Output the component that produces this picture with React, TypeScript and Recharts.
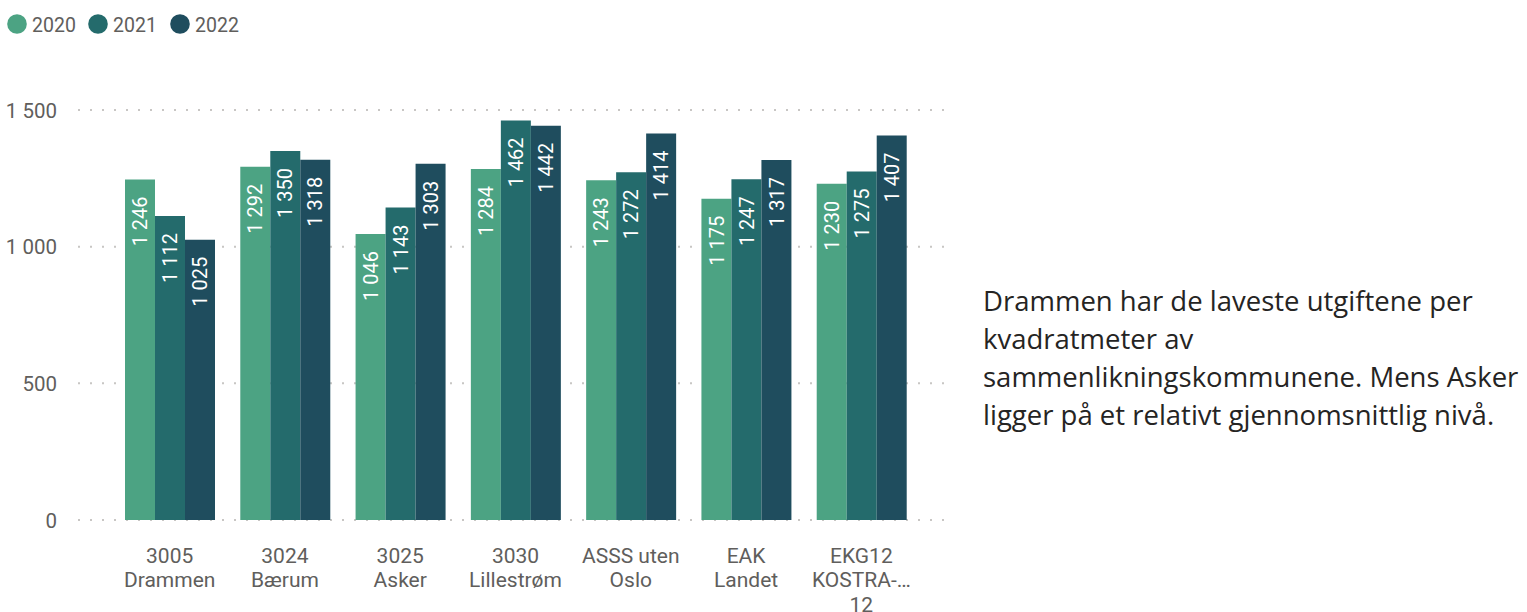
import React from "react";
import { BarChart, Bar, XAxis, YAxis, CartesianGrid, LabelList } from "recharts";

const categories: string[] = [
  "3005\nDrammen",
  "3024\nBærum",
  "3025\nAsker",
  "3030\nLillestrøm",
  "ASSS uten\nOslo",
  "EAK\nLandet",
  "EKG12\nKOSTRA-…\n12",
];
const values2020: number[] = [1246, 1292, 1046, 1284, 1243, 1175, 1230];
const values2021: number[] = [1112, 1350, 1143, 1462, 1272, 1247, 1275];
const values2022: number[] = [1025, 1318, 1303, 1442, 1414, 1317, 1407];
const yTicks: number[] = [0, 500, 1000, 1500];
const seriesNames: string[] = ["2020", "2021", "2022"];
const seriesColors: string[] = ["#4CA383", "#246B6C", "#1F4D5E"];
const commentLines: string[] = [
  "Drammen har de laveste utgiftene per",
  "kvadratmeter av",
  "sammenlikningskommunene. Mens Asker",
  "ligger på et relativt gjennomsnittlig nivå.",
];

const data = categories.map((c, i) => ({
  label: c,
  v2020: values2020[i],
  v2021: values2021[i],
  v2022: values2022[i],
}));

const fmt = (v: number) =>
  Math.round(v)
    .toString()
    .replace(/\B(?=(\d{3})+(?!\d))/g, " ");

const AXIS_FONT = "Roboto, 'DejaVu Sans', sans-serif";
const TEXT_GREY = "#605E5C";

const renderBarLabel = (props: any) => {
  const { x, y, width, value } = props;
  const cx = Number(x) + Number(width) / 2;
  const ty = Number(y) + 17;
  return (
    <text
      x={cx}
      y={ty}
      transform={`rotate(-90 ${cx} ${ty})`}
      textAnchor="end"
      dy="0.355em"
      fill="#FFFFFF"
      fontFamily={AXIS_FONT}
      fontSize={20}
    >
      {fmt(Number(value))}
    </text>
  );
};

const XTick = (props: any) => {
  const { x, y, payload } = props;
  const lines = String(payload.value).split("\n");
  return (
    <text
      x={x}
      y={y + 42.5}
      textAnchor="middle"
      fill={TEXT_GREY}
      fontFamily={AXIS_FONT}
      fontSize={21}
    >
      {lines.map((l: string, i: number) => (
        <tspan key={i} x={x} dy={i === 0 ? 0 : 24.5}>
          {l}
        </tspan>
      ))}
    </text>
  );
};

const YTick = (props: any) => {
  const { x, y, payload } = props;
  return (
    <text
      x={x - 21}
      y={y}
      dy="0.37em"
      textAnchor="end"
      fill={TEXT_GREY}
      fontFamily={AXIS_FONT}
      fontSize={20.5}
    >
      {fmt(Number(payload.value))}
    </text>
  );
};

export default function App() {
  const legendX = [17, 98, 180];
  return (
    <div
      style={{
        position: "absolute",
        left: 0,
        top: 0,
        width: 1527,
        height: 612,
        background: "#FFFFFF",
        overflow: "hidden",
      }}
    >
      <svg
        width={260}
        height={48}
        style={{ position: "absolute", left: 0, top: 0 }}
      >
        {seriesNames.map((n, i) => (
          <g key={n}>
            <circle cx={legendX[i]} cy={24} r={9.8} fill={seriesColors[i]} />
            <text
              x={legendX[i] + 15}
              y={31.5}
              fill={TEXT_GREY}
              fontFamily={AXIS_FONT}
              fontSize={19.5}
            >
              {n}
            </text>
          </g>
        ))}
      </svg>
      <div style={{ position: "absolute", left: 0, top: 0 }}>
        <BarChart
          width={960}
          height={612}
          data={data}
          margin={{ top: 110, right: 15, bottom: 0, left: 0 }}
          barGap={0}
          barSize={30}
        >
          <CartesianGrid
            horizontal={true}
            vertical={false}
            stroke="#C8C6C4"
            strokeWidth={2}
            strokeDasharray="2 10"
          />
          <XAxis
            dataKey="label"
            axisLine={false}
            tickLine={false}
            tickSize={0}
            tickMargin={0}
            height={92}
            interval={0}
            padding={{ left: 34, right: 26 }}
            tick={<XTick />}
          />
          <YAxis
            domain={[0, 1500]}
            ticks={yTicks}
            axisLine={false}
            tickLine={false}
            tickSize={0}
            tickMargin={0}
            width={78}
            tick={<YTick />}
          />
          <Bar dataKey="v2020" name={seriesNames[0]} fill={seriesColors[0]} isAnimationActive={false}>
            <LabelList dataKey="v2020" content={renderBarLabel} />
          </Bar>
          <Bar dataKey="v2021" name={seriesNames[1]} fill={seriesColors[1]} isAnimationActive={false}>
            <LabelList dataKey="v2021" content={renderBarLabel} />
          </Bar>
          <Bar dataKey="v2022" name={seriesNames[2]} fill={seriesColors[2]} isAnimationActive={false}>
            <LabelList dataKey="v2022" content={renderBarLabel} />
          </Bar>
        </BarChart>
      </div>
      <div
        style={{
          position: "absolute",
          left: 983,
          top: 282,
          fontFamily: "'Open Sans', 'Noto Sans', sans-serif",
          fontSize: 27.5,
          lineHeight: "38px",
          color: "#252423",
          whiteSpace: "nowrap",
        }}
      >
        {commentLines.map((l, i) => (
          <div key={i}>{l}</div>
        ))}
      </div>
    </div>
  );
}
